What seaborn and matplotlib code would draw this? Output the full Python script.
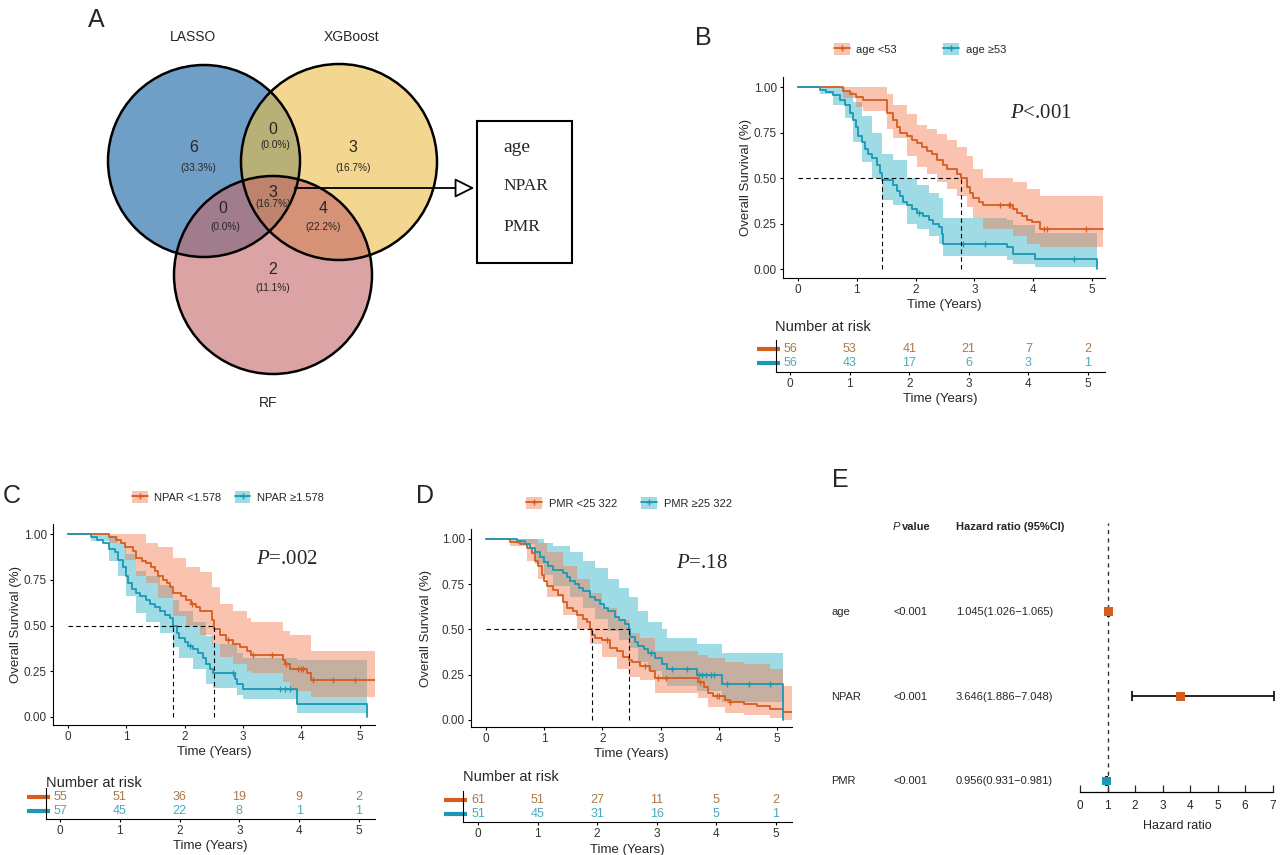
"""
Figura: seleção de variáveis (Venn), curvas de Kaplan-Meier e forest plot
"""
import numpy as np
import matplotlib
matplotlib.use('Agg')
import matplotlib.pyplot as plt
import seaborn as sns
from matplotlib.patches import Circle, Rectangle, Patch
from matplotlib.lines import Line2D
from matplotlib.legend_handler import HandlerTuple

sns.set_style('white')
plt.rcParams['font.family'] = ['Liberation Sans', 'DejaVu Sans']
plt.rcParams['mathtext.fontset'] = 'custom'
plt.rcParams['mathtext.it'] = 'Liberation Serif:italic'
plt.rcParams['mathtext.rm'] = 'Liberation Serif'

W, H = 1280, 855
ORANGE, TEAL = '#D55E1F', '#1B98B5'
ORANGE_BAND, TEAL_BAND = '#F47A50', '#2AB0C5'
ORANGE_TXT, TEAL_TXT = '#A8794A', '#4BA9BE'

# ---------------- dados ----------------
# Venn: ordem das regiões = LASSO, XGBoost, RF, L∩X, L∩R, X∩R, L∩X∩R
venn_sets = ['LASSO', 'XGBoost', 'RF']
venn_counts = [6, 3, 2, 0, 0, 4, 3]
hub_vars = ['age', 'NPAR', 'PMR']

risk_times = [0, 1, 2, 3, 4, 5]

# Painel B - idade
b_labels = ['age <53', 'age \u226553']
b_low_t = [0.77, 0.88, 0.99, 1.11, 1.51, 1.62, 1.68, 1.73, 1.85, 1.93, 2.02, 2.10, 2.19, 2.27, 2.36,
           2.47, 2.53, 2.70, 2.78, 2.87, 2.93, 2.98, 3.07, 3.15, 3.66, 3.72, 3.81, 3.89, 3.98, 4.12]
b_low_s = [0.98, 0.96, 0.945, 0.93, 0.86, 0.82, 0.78, 0.75, 0.73, 0.71, 0.69, 0.67, 0.65, 0.63, 0.60,
           0.57, 0.55, 0.52, 0.50, 0.45, 0.42, 0.39, 0.37, 0.35, 0.33, 0.31, 0.29, 0.27, 0.26, 0.22]
b_low_cens = [3.44, 3.58, 3.61, 4.18, 4.23, 4.89]
b_low_ci_t = [0, 0.77, 0.99, 1.11, 1.51, 1.62, 1.85, 2.02, 2.19, 2.36, 2.53, 2.70, 2.87, 2.98, 3.15, 3.66, 3.89, 4.12]
b_low_ci_lo = [1, 0.94, 0.89, 0.87, 0.77, 0.72, 0.62, 0.56, 0.52, 0.48, 0.44, 0.40, 0.34, 0.28, 0.22, 0.18, 0.14, 0.12]
b_low_ci_hi = [1, 1.0, 1.0, 1.0, 0.96, 0.90, 0.85, 0.79, 0.77, 0.74, 0.71, 0.67, 0.62, 0.55, 0.50, 0.48, 0.44, 0.40]
b_low_end = 5.19
b_high_t = [0.37, 0.48, 0.60, 0.71, 0.80, 0.88, 0.94, 0.98, 1.02, 1.08, 1.14, 1.19, 1.25, 1.34, 1.39, 1.42, 1.62,
            1.68, 1.73, 1.79, 1.85, 1.93, 2.02, 2.13, 2.22, 2.30, 2.39, 2.44, 2.47, 3.55, 3.66, 4.03, 5.08]
b_high_s = [0.985, 0.97, 0.955, 0.93, 0.90, 0.86, 0.82, 0.78, 0.73, 0.70, 0.66, 0.63, 0.61, 0.57, 0.53, 0.49, 0.46,
            0.43, 0.40, 0.37, 0.35, 0.33, 0.31, 0.29, 0.27, 0.25, 0.23, 0.19, 0.14, 0.12, 0.085, 0.057, 0.0]
b_high_cens = [2.05, 2.81, 3.18, 4.69]
b_high_ci_t = [0, 0.37, 0.60, 0.80, 0.94, 1.08, 1.25, 1.42, 1.62, 1.85, 2.02, 2.22, 2.39, 2.47, 3.55, 3.66, 4.03]
b_high_ci_lo = [1, 0.96, 0.90, 0.83, 0.70, 0.59, 0.50, 0.38, 0.35, 0.25, 0.22, 0.18, 0.14, 0.07, 0.05, 0.03, 0.01]
b_high_ci_hi = [1, 1.0, 1.0, 0.98, 0.92, 0.84, 0.75, 0.63, 0.60, 0.50, 0.46, 0.42, 0.39, 0.28, 0.27, 0.24, 0.20]
b_high_end = 5.08
b_medians = [1.42, 2.78]
b_risk_low = [56, 53, 41, 21, 7, 2]
b_risk_high = [56, 43, 17, 6, 3, 1]

# Painel C - NPAR
c_labels = ['NPAR <1.578', 'NPAR \u22651.578']
c_low_t = [0.71, 0.83, 0.91, 0.97, 1.11, 1.17, 1.26, 1.34, 1.43, 1.49, 1.54, 1.63, 1.69, 1.74, 1.80, 1.94, 2.03,
           2.11, 2.20, 2.26, 2.46, 2.51, 2.60, 2.71, 2.83, 2.94, 3.06, 3.14, 3.69, 3.71, 3.80, 4.09, 4.17]
c_low_s = [0.985, 0.97, 0.95, 0.93, 0.91, 0.87, 0.85, 0.84, 0.82, 0.80, 0.77, 0.75, 0.73, 0.71, 0.68, 0.66, 0.64,
           0.62, 0.60, 0.58, 0.53, 0.48, 0.45, 0.42, 0.40, 0.38, 0.36, 0.34, 0.31, 0.29, 0.26, 0.24, 0.20]
c_low_cens = [2.13, 2.74, 3.17, 3.49, 3.74, 3.94, 4.0, 4.03, 4.2, 4.54, 4.91]
c_low_ci_t = [0, 0.71, 0.97, 1.17, 1.34, 1.54, 1.80, 2.03, 2.26, 2.46, 2.60, 2.83, 3.06, 3.14, 3.69, 3.80, 4.17]
c_low_ci_lo = [1, 0.95, 0.86, 0.77, 0.73, 0.65, 0.55, 0.50, 0.45, 0.40, 0.33, 0.29, 0.25, 0.24, 0.19, 0.14, 0.11]
c_low_ci_hi = [1, 1.0, 1.0, 1.0, 0.95, 0.93, 0.87, 0.82, 0.79, 0.71, 0.62, 0.58, 0.54, 0.52, 0.47, 0.45, 0.36]
c_low_end = 5.26
c_high_t = [0.40, 0.49, 0.60, 0.71, 0.80, 0.86, 0.94, 1.00, 1.03, 1.09, 1.17, 1.23, 1.34, 1.40, 1.49, 1.57, 1.66,
            1.74, 1.80, 1.86, 1.91, 2.00, 2.06, 2.14, 2.23, 2.31, 2.37, 2.43, 2.49, 2.86, 2.90, 3.00, 3.92, 5.12]
c_high_s = [0.985, 0.97, 0.95, 0.92, 0.90, 0.86, 0.82, 0.77, 0.73, 0.70, 0.68, 0.66, 0.64, 0.62, 0.60, 0.58, 0.56,
            0.54, 0.50, 0.46, 0.43, 0.41, 0.39, 0.37, 0.35, 0.32, 0.29, 0.26, 0.24, 0.21, 0.18, 0.155, 0.07, 0.0]
c_high_cens = [2.09, 2.82, 3.63, 3.72, 3.80]
c_high_ci_t = [0, 0.40, 0.71, 0.86, 1.00, 1.17, 1.34, 1.57, 1.80, 1.91, 2.14, 2.37, 2.49, 2.90, 3.00, 3.92]
c_high_ci_lo = [1, 0.96, 0.85, 0.77, 0.66, 0.57, 0.52, 0.46, 0.38, 0.32, 0.26, 0.18, 0.16, 0.12, 0.10, 0.02]
c_high_ci_hi = [1, 1.0, 0.99, 0.95, 0.89, 0.80, 0.77, 0.72, 0.64, 0.58, 0.52, 0.44, 0.40, 0.35, 0.32, 0.31]
c_high_end = 5.12
c_medians = [1.80, 2.51]
c_risk_low = [55, 51, 36, 19, 9, 2]
c_risk_high = [57, 45, 22, 8, 1, 1]

# Painel D - PMR
d_labels = ['PMR <25 322', 'PMR \u226525 322']
d_low_t = [0.41, 0.58, 0.70, 0.79, 0.84, 0.90, 0.96, 0.99, 1.04, 1.16, 1.24, 1.33, 1.39, 1.50, 1.56, 1.67, 1.73,
           1.79, 1.83, 1.88, 1.99, 2.13, 2.25, 2.36, 2.45, 2.51, 2.65, 2.82, 2.91, 3.65, 3.74, 3.82, 3.91, 4.11,
           4.20, 4.43, 4.66, 4.89, 5.11]
d_low_s = [0.985, 0.97, 0.95, 0.92, 0.88, 0.85, 0.80, 0.77, 0.74, 0.72, 0.69, 0.65, 0.62, 0.60, 0.58, 0.56, 0.54,
           0.50, 0.47, 0.45, 0.44, 0.40, 0.38, 0.35, 0.33, 0.32, 0.30, 0.27, 0.23, 0.21, 0.18, 0.15, 0.13, 0.11,
           0.10, 0.09, 0.075, 0.06, 0.045]
d_low_cens = [2.08, 2.74, 2.95, 3.10, 3.68, 3.97, 4.0, 4.2]
d_low_ci_t = [0, 0.41, 0.70, 0.90, 1.04, 1.33, 1.56, 1.79, 1.99, 2.25, 2.45, 2.65, 2.91, 3.65, 3.82, 4.11, 4.43, 4.89, 5.11]
d_low_ci_lo = [1, 0.96, 0.88, 0.78, 0.68, 0.58, 0.50, 0.42, 0.35, 0.28, 0.24, 0.22, 0.15, 0.12, 0.07, 0.04, 0.03, 0.01, 0.0]
d_low_ci_hi = [1, 1.0, 1.0, 0.98, 0.93, 0.85, 0.78, 0.70, 0.62, 0.55, 0.48, 0.45, 0.38, 0.36, 0.34, 0.32, 0.31, 0.28, 0.19]
d_low_end = 5.26
d_high_t = [0.53, 0.67, 0.76, 0.84, 0.93, 0.99, 1.07, 1.16, 1.33, 1.39, 1.44, 1.53, 1.59, 1.67, 1.79, 1.88, 1.96,
            2.02, 2.10, 2.22, 2.28, 2.39, 2.45, 2.48, 2.56, 2.62, 2.71, 2.79, 2.91, 3.02, 3.11, 3.62, 4.05, 5.11]
d_high_s = [0.99, 0.97, 0.95, 0.93, 0.90, 0.87, 0.85, 0.83, 0.81, 0.79, 0.77, 0.75, 0.73, 0.71, 0.68, 0.66, 0.64,
            0.62, 0.60, 0.57, 0.55, 0.53, 0.50, 0.46, 0.43, 0.41, 0.39, 0.37, 0.34, 0.31, 0.28, 0.25, 0.20, 0.0]
d_high_cens = [2.83, 3.19, 3.45, 3.66, 3.72, 3.79, 3.86, 3.92, 4.14, 4.52, 4.89]
d_high_ci_t = [0, 0.53, 0.84, 0.99, 1.16, 1.44, 1.67, 1.88, 2.10, 2.28, 2.45, 2.62, 2.79, 3.02, 3.11, 3.62, 4.05]
d_high_ci_lo = [1, 0.97, 0.86, 0.80, 0.74, 0.68, 0.62, 0.56, 0.49, 0.44, 0.40, 0.32, 0.27, 0.22, 0.19, 0.16, 0.10]
d_high_ci_hi = [1, 1.0, 1.0, 0.98, 0.96, 0.93, 0.88, 0.84, 0.78, 0.73, 0.68, 0.60, 0.54, 0.50, 0.45, 0.42, 0.37]
d_high_end = 5.11
d_medians = [1.83, 2.45]
d_risk_low = [61, 51, 27, 11, 5, 2]
d_risk_high = [51, 45, 31, 16, 5, 1]

# Painel E - forest plot
forest_vars = ['age', 'NPAR', 'PMR']
forest_p = ['<0.001', '<0.001', '<0.001']
forest_hr = [1.045, 3.646, 0.956]
forest_lo = [1.026, 1.886, 0.931]
forest_hi = [1.065, 7.048, 0.981]


def curva(t, s, cens, ci_t, ci_lo, ci_hi, end, color, band):
    return dict(t=t, s=s, cens=cens, ci_t=ci_t, ci_lo=ci_lo, ci_hi=ci_hi, end=end, color=color, band=band)


def px_axes(fig, l, t, r, b):
    """Cria eixos a partir de coordenadas em pixels (origem no topo)"""
    ax = fig.add_axes([l / W, 1 - b / H, (r - l) / W, (b - t) / H])
    ax.set_facecolor('none')
    return ax


def estilo_eixo(ax):
    for sp in ['top', 'right']:
        ax.spines[sp].set_visible(False)
    for sp in ['left', 'bottom']:
        ax.spines[sp].set_color('black')
        ax.spines[sp].set_linewidth(0.8)
    ax.tick_params(direction='out', length=2.5, width=0.8, pad=2, labelsize=8.5,
                   color='black', labelcolor='#333333', left=True, bottom=True)


def painel_km(fig, ax0, main_box, table_box, xlim, ylim, txlim, tylim, curves, medians,
              risk, labels, pval, pval_xy, leg_xy, colspace, ylab_x, xlab_y, txlab_y, nar_xy):
    ax = px_axes(fig, *main_box)
    # bandas de confiança (teal por baixo)
    for c in curves[::-1]:
        x = list(c['ci_t']) + [c['end']]
        lo = list(c['ci_lo']) + [c['ci_lo'][-1]]
        hi = list(c['ci_hi']) + [c['ci_hi'][-1]]
        ax.fill_between(x, lo, hi, step='post', color=c['band'], alpha=0.45, lw=0)
    # curvas de sobrevida
    for c in curves:
        x = [0.0] + list(c['t'])
        y = [1.0] + list(c['s'])
        if c['end'] > x[-1]:
            x.append(c['end'])
            y.append(y[-1])
        sns.lineplot(x=x, y=y, drawstyle='steps-post', estimator=None, sort=False,
                     color=c['color'], lw=1.3, ax=ax)
        idx = np.searchsorted(x, c['cens'], side='right') - 1
        ax.plot(c['cens'], np.array(y)[idx], ls='none', marker='+', ms=5, mew=0.9, color=c['color'])
    # medianas
    ax.plot([0, max(medians)], [0.5, 0.5], ls='--', color='black', lw=0.8, dashes=(4, 3))
    for m in medians:
        ax.plot([m, m], [0, 0.5], ls='--', color='black', lw=0.8, dashes=(4, 3))
    ax.set_xlim(xlim)
    ax.set_ylim(ylim)
    ax.set_xticks(risk_times)
    ax.set_yticks([0, 0.25, 0.5, 0.75, 1.0])
    ax.set_yticklabels(['0.00', '0.25', '0.50', '0.75', '1.00'])
    estilo_eixo(ax)
    ax.set_xlabel('Time (Years)', fontsize=9.5)
    ax.set_ylabel('Overall Survival (%)', fontsize=9.5)
    ax.xaxis.set_label_coords(0.5, xlab_y)
    ax.yaxis.set_label_coords(ylab_x, 0.5)

    ax0.text(pval_xy[0], pval_xy[1], pval, fontsize=15, ha='center', va='center',
             family='Liberation Serif')

    handles = [(Patch(facecolor=c['band'], alpha=0.45, lw=0),
                Line2D([], [], color=c['color'], lw=1.3, marker='+', ms=5)) for c in curves]
    fig.legend(handles, labels, loc='center', bbox_to_anchor=(leg_xy[0] / W, 1 - leg_xy[1] / H),
               ncol=2, frameon=False, fontsize=8, handler_map={tuple: HandlerTuple(ndivide=1)},
               handlelength=1.4, handleheight=1.25, handletextpad=0.6, columnspacing=colspace)

    # tabela de número em risco
    tx = px_axes(fig, *table_box)
    cores_txt = [ORANGE_TXT, TEAL_TXT]
    for row, (vals, col) in enumerate(zip(risk, cores_txt)):
        yrow = 1 - row
        for t, v in zip(risk_times, vals):
            tx.text(t, yrow, str(v), ha='center', va='center', fontsize=9, color=col)
        tx.plot([-0.058, 0.012], [yrow, yrow], color=curves[row]['color'], lw=3,
                transform=tx.get_yaxis_transform(), clip_on=False, solid_capstyle='butt')
    tx.set_xlim(txlim)
    tx.set_ylim(tylim)
    tx.set_xticks(risk_times)
    tx.set_yticks([])
    estilo_eixo(tx)
    tx.tick_params(left=False)
    tx.set_xlabel('Time (Years)', fontsize=9.5)
    tx.xaxis.set_label_coords(0.5, txlab_y)
    ax0.text(nar_xy[0], nar_xy[1], 'Number at risk', fontsize=10.5, ha='left', va='center')
    return ax


fig = plt.figure(figsize=(W / 100, H / 100), dpi=100)

# eixo de sobreposição em pixels (Venn, letras e textos livres)
ax0 = fig.add_axes([0, 0, 1, 1])
ax0.set_xlim(0, W)
ax0.set_ylim(H, 0)
ax0.axis('off')

# ---------------- A: Venn ----------------
circ_xy = [(204, 161), (339, 162), (273, 275)]
circ_r = [96, 98, 99]
circ_cor = ['#0F5FA3', '#EBBC44', '#C36666']
for (cx, cy), r, col in zip(circ_xy, circ_r, circ_cor):
    ax0.add_patch(Circle((cx, cy), r, facecolor=col, alpha=0.6, lw=0))
for (cx, cy), r in zip(circ_xy, circ_r):
    ax0.add_patch(Circle((cx, cy), r, fill=False, edgecolor='black', lw=1.8))

set_label_xy = [(193, 37), (352, 37), (268, 403)]
for name, (x, y) in zip(venn_sets, set_label_xy):
    ax0.text(x, y, name, fontsize=10, ha='center', va='center')

total = sum(venn_counts)
count_xy = [(194, 147), (353, 147), (273, 269), (273, 129), (223, 208), (323, 208), (273, 192)]
pct_xy = [(198, 168), (353, 168), (273, 288), (275, 145), (225, 227), (323, 227), (273, 204)]
for n, (x, y), (px, py) in zip(venn_counts, count_xy, pct_xy):
    ax0.text(x, y, str(n), fontsize=11.5, ha='center', va='center')
    ax0.text(px, py, f'({100 * n / total:.1f}%)', fontsize=7.3, ha='center', va='center')

ax0.annotate('', xy=(477, 188), xytext=(292, 188),
             arrowprops=dict(arrowstyle='-|>', fc='white', ec='black', lw=1.3, mutation_scale=30))
ax0.add_patch(Rectangle((477, 121), 95, 142, fill=False, edgecolor='black', lw=1.5))
for name, y, fs in zip(hub_vars, [147, 186, 227], [14, 12.5, 12.5]):
    ax0.text(503, y, name, fontsize=fs, ha='left', va='center', family='Liberation Serif')

# ---------------- B, C, D: Kaplan-Meier ----------------
curvas_b = [curva(b_low_t, b_low_s, b_low_cens, b_low_ci_t, b_low_ci_lo, b_low_ci_hi, b_low_end, ORANGE, ORANGE_BAND),
            curva(b_high_t, b_high_s, b_high_cens, b_high_ci_t, b_high_ci_lo, b_high_ci_hi, b_high_end, TEAL, TEAL_BAND)]
curvas_c = [curva(c_low_t, c_low_s, c_low_cens, c_low_ci_t, c_low_ci_lo, c_low_ci_hi, c_low_end, ORANGE, ORANGE_BAND),
            curva(c_high_t, c_high_s, c_high_cens, c_high_ci_t, c_high_ci_lo, c_high_ci_hi, c_high_end, TEAL, TEAL_BAND)]
curvas_d = [curva(d_low_t, d_low_s, d_low_cens, d_low_ci_t, d_low_ci_lo, d_low_ci_hi, d_low_end, ORANGE, ORANGE_BAND),
            curva(d_high_t, d_high_s, d_high_cens, d_high_ci_t, d_high_ci_lo, d_high_ci_hi, d_high_end, TEAL, TEAL_BAND)]

painel_km(fig, ax0, (783, 77, 1105, 278), (776, 340, 1105, 372),
          (-0.255, 5.22), (-0.049, 1.055), (-0.235, 5.285), (-0.64, 1.64),
          curvas_b, b_medians, [b_risk_low, b_risk_high], b_labels,
          r'$P$<.001', (1041, 113), (920, 49), 4.2, -0.095, -0.105, -0.67, (775, 327))

painel_km(fig, ax0, (53, 524, 375, 725), (46, 788, 375, 819),
          (-0.257, 5.26), (-0.044, 1.055), (-0.234, 5.27), (-0.57, 1.64),
          curvas_c, c_medians, [c_risk_low, c_risk_high], c_labels,
          r'$P$=.002', (287, 559), (228, 497), 1.2, -0.095, -0.105, -0.68, (46, 783))

painel_km(fig, ax0, (471, 529, 792, 727), (463, 791, 792, 822),
          (-0.258, 5.26), (-0.039, 1.055), (-0.252, 5.27), (-0.57, 1.64),
          curvas_d, d_medians, [d_risk_low, d_risk_high], d_labels,
          r'$P$=.18', (702, 563), (629, 503), 2.2, -0.122, -0.105, -0.70, (463, 777))

# ---------------- E: forest plot ----------------
axf = px_axes(fig, 1080, 523, 1274, 792)
ypos = [3, 2, 1]
axf.axvline(1, color='#333333', lw=1.0, ls='--', dashes=(3, 3), zorder=1)
err = [np.array(forest_hr) - np.array(forest_lo), np.array(forest_hi) - np.array(forest_hr)]
axf.errorbar(forest_hr, ypos, xerr=err, fmt='none', ecolor='black', elinewidth=1.2,
             capsize=3.5, capthick=1.2, clip_on=False, zorder=2)
sns.scatterplot(x=forest_hr, y=ypos, hue=forest_vars, palette=[ORANGE, ORANGE, TEAL],
                marker='s', s=40, linewidth=0, legend=False, ax=axf, zorder=3, clip_on=False)
axf.set_xlim(0, 7.05)
axf.set_ylim(0.87, 4.05)
axf.set_xticks(range(8))
axf.set_yticks([])
for sp in ['top', 'right', 'left']:
    axf.spines[sp].set_visible(False)
axf.spines['bottom'].set_bounds(0, 7)
axf.spines['bottom'].set_linewidth(0.9)
axf.spines['bottom'].set_color('black')
axf.tick_params(axis='x', direction='in', length=5, width=0.9, pad=5.5, labelsize=8.5, bottom=True)
axf.set_xlabel('Hazard ratio', fontsize=9)
axf.xaxis.set_label_coords(0.5, -0.105)

ax0.text(893, 527, 'P', fontsize=8, style='italic', va='center')
ax0.text(902, 527, 'value', fontsize=8, weight='bold', va='center')
ax0.text(956, 527, 'Hazard ratio (95%CI)', fontsize=8, weight='bold', va='center')
for name, p, hr, lo, hi, y in zip(forest_vars, forest_p, forest_hr, forest_lo, forest_hi, [612, 697, 781]):
    ax0.text(831, y, name, fontsize=8, va='center')
    ax0.text(893, y, p, fontsize=8, va='center')
    ax0.text(956, y, f'{hr:.3f}({lo:.3f}\u2212{hi:.3f})', fontsize=8, va='center')

# letras dos painéis
for letra, (x, y) in zip('ABCDE', [(96, 20), (703, 38), (12, 496), (425, 496), (840, 480)]):
    ax0.text(x, y, letra, fontsize=18, ha='center', va='center')

plt.savefig('out.png', dpi=100)
plt.close()
